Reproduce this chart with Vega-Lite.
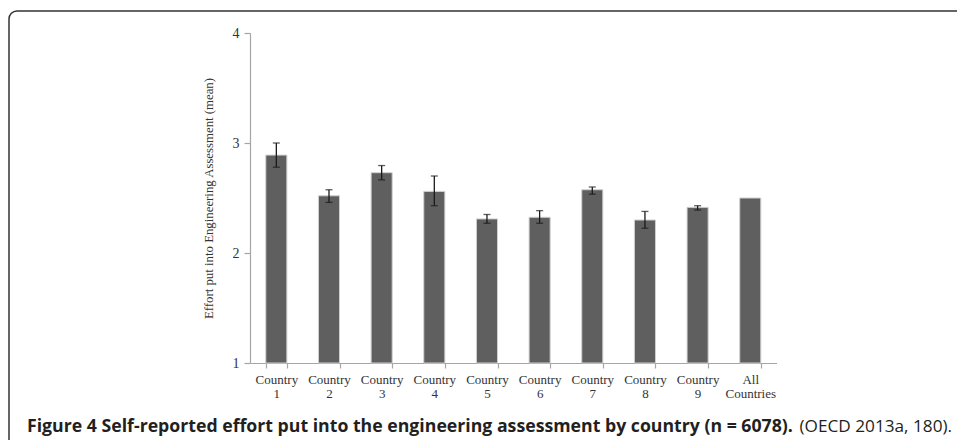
{
  "$schema": "https://vega.github.io/schema/vega-lite/v6.json",
  "autosize": {"type": "none"},
  "width": 960,
  "height": 441,
  "padding": {"left": 9, "top": 11, "right": -12, "bottom": -12},
  "background": "white",
  "config": {
    "view": {"stroke": "#333333", "strokeWidth": 1.5, "cornerRadius": 8},
    "axis": {
      "labelFont": "Liberation Serif",
      "labelFontSize": 13,
      "labelColor": "#333333",
      "titleFont": "Liberation Serif",
      "titleFontSize": 12.8,
      "titleFontWeight": "normal",
      "titleColor": "#333333",
      "domainColor": "#a6a6a6",
      "tickColor": "#a6a6a6",
      "domainWidth": 1.2,
      "tickWidth": 1.2,
      "grid": false
    }
  },
  "title": {
    "text": "Figure 4 Self-reported effort put into the engineering assessment by country (n = 6078).",
    "orient": "bottom",
    "anchor": "start",
    "frame": "group",
    "offset": -20.3,
    "dx": 18,
    "baseline": "alphabetic",
    "font": "Open Sans",
    "fontWeight": "bold",
    "fontSize": 17.7,
    "color": "#231f20"
  },
  "data": {
    "values": [
      {"country": "Country 1", "mean": 2.89, "lo": 2.78, "hi": 3.0},
      {"country": "Country 2", "mean": 2.52, "lo": 2.46, "hi": 2.575},
      {"country": "Country 3", "mean": 2.73, "lo": 2.665, "hi": 2.795},
      {"country": "Country 4", "mean": 2.56, "lo": 2.43, "hi": 2.7},
      {"country": "Country 5", "mean": 2.31, "lo": 2.27, "hi": 2.35},
      {"country": "Country 6", "mean": 2.325, "lo": 2.27, "hi": 2.385},
      {"country": "Country 7", "mean": 2.575, "lo": 2.535, "hi": 2.6},
      {"country": "Country 8", "mean": 2.3, "lo": 2.225, "hi": 2.378},
      {"country": "Country 9", "mean": 2.415, "lo": 2.39, "hi": 2.43},
      {"country": "All Countries", "mean": 2.5, "lo": null, "hi": null}
    ]
  },
  "encoding": {
    "x": {
      "field": "country",
      "type": "nominal",
      "sort": null,
      "scale": {"range": [241, 767.6], "paddingInner": 0.6, "paddingOuter": 0.3},
      "axis": {
        "title": "(OECD 2013a, 180).",
        "titleFont": "Open Sans",
        "titleFontSize": 17.2,
        "titleColor": "#231f20",
        "titleX": 790,
        "titleY": 68.5,
        "titleAlign": "left",
        "titleAnchor": "start",
        "titleBaseline": "alphabetic",
        "offset": -89,
        "labelAngle": 0,
        "labelExpr": "split(datum.label, ' ')",
        "labelLineHeight": 14,
        "labelPadding": 5,
        "tickSize": 5,
        "tickBand": "extent"
      }
    }
  },
  "layer": [
    {
      "mark": {"type": "bar", "color": "#5f5f5f", "stroke": "#d0d0d0", "strokeWidth": 1},
      "encoding": {
        "y": {
          "field": "mean",
          "type": "quantitative",
          "scale": {"domain": [1, 4], "range": [352, 22], "nice": false, "zero": false},
          "axis": {
            "title": "Effort put into Engineering Assessment (mean)",
            "values": [1, 2, 3, 4],
            "format": "d",
            "offset": -241,
            "tickSize": 6,
            "labelFontSize": 14,
            "labelPadding": 5,
            "titlePadding": 17
          }
        },
        "y2": {"datum": 1}
      }
    },
    {
      "mark": {"type": "rule", "color": "#1a1a1a", "strokeWidth": 1.3},
      "encoding": {
        "y": {"field": "lo", "type": "quantitative"},
        "y2": {"field": "hi"}
      }
    },
    {
      "mark": {"type": "tick", "color": "#1a1a1a", "size": 7, "thickness": 1.3},
      "encoding": {"y": {"field": "lo", "type": "quantitative"}}
    },
    {
      "mark": {"type": "tick", "color": "#1a1a1a", "size": 7, "thickness": 1.3},
      "encoding": {"y": {"field": "hi", "type": "quantitative"}}
    }
  ]
}
